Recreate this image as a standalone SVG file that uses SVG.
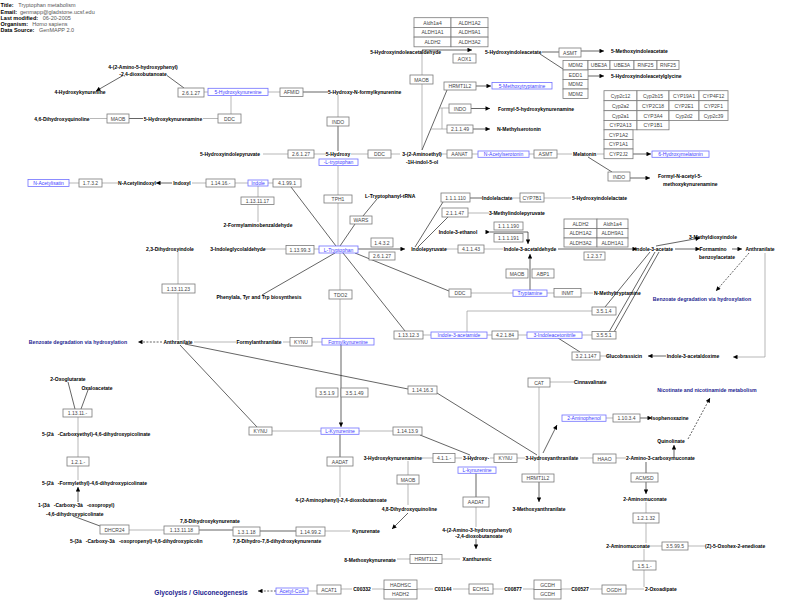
<svg xmlns="http://www.w3.org/2000/svg" width="785" height="606" viewBox="0 0 785 606">
<defs>
<marker id="ah" viewBox="0 0 10 10" refX="10" refY="5" markerWidth="5.5" markerHeight="4.5" markerUnits="userSpaceOnUse" orient="auto"><path d="M0,0 L10,5 L0,10 z" fill="#000"/></marker>
</defs>
<style>
text{font-family:"Liberation Sans",Arial,sans-serif;dominant-baseline:central}
.gn rect{fill:#fff;stroke:#7a7a7a;stroke-width:.8}
.gn text{font-size:5px;fill:#444;text-anchor:middle}
.bl rect{fill:#fff;stroke:#7070ff;stroke-width:.8}
.bl text{font-size:5px;fill:#3c3cff;text-anchor:middle}
.mt text{font-size:5px;font-weight:bold;fill:#000;text-anchor:middle}
.mt text.s{text-anchor:start}
.mt text.e{text-anchor:end}
.pw text{font-size:5.2px;font-weight:bold;fill:#1d1d90;text-anchor:middle}
.hd text{font-size:5.5px;fill:#555}
.hd text.b{font-weight:bold;fill:#000}
.c{stroke:#9a9a9a;stroke-width:.7;fill:none}
.k{stroke:#222;stroke-width:.7;fill:none}
.a{marker-end:url(#ah)}
.as{marker-start:url(#ah)}
.d{stroke-dasharray:2 1.4}
</style>
<rect width="785" height="606" fill="#fff"/>

<g id="header" class="hd">
<text class="b" x="0.5" y="5">Title:</text><text x="18.3" y="5">Tryptophan metabolism</text>
<text class="b" x="0.5" y="11.7">Email:</text><text x="20" y="11.7">genmapp@gladstone.ucsf.edu</text>
<text class="b" x="0.5" y="17.7">Last modified:</text><text x="42.7" y="17.7">06-20-2005</text>
<text class="b" x="0.5" y="24">Organism:</text><text x="32.3" y="24">Homo sapiens</text>
<text class="b" x="0.5" y="30">Data Source:</text><text x="39" y="30">GenMAPP 2.0</text>
</g>

<g id="connectors">
<!-- top-left -->
<line class="k a" x1="123" y1="75.5" x2="96" y2="91"/>
<line class="k" x1="167" y1="75.5" x2="184" y2="88"/>
<line class="c" x1="204" y1="92" x2="208" y2="92"/>
<line class="c" x1="268" y1="92" x2="280" y2="92"/>
<line class="k" x1="303" y1="92" x2="328" y2="92"/>
<line class="c" x1="231" y1="95.5" x2="231" y2="114"/>
<line class="c" x1="90" y1="118.5" x2="107" y2="118.5"/>
<line class="k" x1="129" y1="118.5" x2="143" y2="118.5"/>
<line class="c" x1="203" y1="118.5" x2="218" y2="118.5"/>
<line class="c" x1="338" y1="95" x2="338" y2="117"/>
<line class="k" x1="338" y1="126" x2="338" y2="151"/>
<line class="c" x1="263" y1="154" x2="288" y2="154"/>
<line class="c" x1="314" y1="154" x2="326" y2="154"/>
<line class="c" x1="351" y1="154" x2="368" y2="154"/>
<line class="c" x1="391" y1="154" x2="400" y2="154"/>
<line class="c" x1="338" y1="165.5" x2="338" y2="195"/>
<line class="c" x1="338" y1="203" x2="338" y2="246"/>
<line class="c" x1="69" y1="183" x2="79" y2="183"/>
<line class="c" x1="102" y1="183" x2="118" y2="183"/>
<line class="k a" x1="172" y1="183" x2="156" y2="183"/>
<line class="c" x1="192" y1="183" x2="206" y2="183"/>
<line class="c" x1="235" y1="183" x2="248" y2="183"/>
<line class="c" x1="268" y1="183" x2="273" y2="183"/>
<line class="c" x1="258" y1="186" x2="258" y2="197"/>
<line class="c" x1="258" y1="204.5" x2="258" y2="222"/>
<line class="k" x1="291" y1="187" x2="336" y2="246"/>
<!-- serotonin branch -->
<line class="c" x1="422" y1="50" x2="422" y2="75"/>
<line class="c" x1="422" y1="84" x2="422" y2="150"/>
<line class="k a" x1="422" y1="50" x2="472" y2="50"/>
<line class="k" x1="542" y1="52" x2="559" y2="52"/>
<line class="k a" x1="581" y1="51" x2="604" y2="51"/>
<line class="k" x1="540" y1="54" x2="563" y2="69"/>
<line class="k a" x1="588" y1="76" x2="604" y2="76"/>
<line class="k" x1="422" y1="150" x2="447" y2="90"/>
<line class="k a" x1="476" y1="86" x2="491" y2="86"/>
<path class="c" d="M440,108 H449 M442,108 V129 M431,129 H447"/>
<line class="k a" x1="471" y1="108.5" x2="490" y2="108.5"/>
<line class="k a" x1="473" y1="129" x2="490" y2="129"/>
<line class="c" x1="440" y1="154" x2="447" y2="154"/>
<line class="c" x1="472" y1="154" x2="478" y2="154"/>
<line class="c" x1="529" y1="154" x2="534" y2="154"/>
<line class="c" x1="557" y1="154" x2="572" y2="154"/>
<line class="c" x1="597" y1="154" x2="604" y2="154"/>
<line class="k a" x1="633" y1="154" x2="651" y2="154"/>
<line class="k" x1="588" y1="157" x2="612" y2="172"/>
<line class="k a" x1="630" y1="178" x2="650" y2="178"/>
<!-- tryptophan hub -->
<line class="k" x1="340" y1="246" x2="355" y2="224"/>
<line class="k" x1="363" y1="216" x2="377" y2="199"/>
<line class="c" x1="264" y1="249" x2="286" y2="249"/>
<line class="c" x1="314" y1="249" x2="319" y2="249"/>
<line class="k a" x1="358" y1="249" x2="405" y2="249"/>
<line class="k" x1="355" y1="253" x2="449" y2="291"/>
<line class="k" x1="343" y1="253" x2="405" y2="331"/>
<line class="k" x1="335" y1="253" x2="262" y2="295"/>
<line class="c" x1="340" y1="253" x2="340" y2="290"/>
<line class="c" x1="340" y1="299" x2="340" y2="338"/>
<line class="k a" x1="341" y1="345" x2="341" y2="427"/>
<line class="c" x1="471" y1="293" x2="513" y2="293"/>
<line class="c" x1="547" y1="293" x2="554" y2="293"/>
<line class="c" x1="581" y1="293" x2="593" y2="293"/>
<line class="k" x1="415" y1="247" x2="443" y2="202"/>
<line class="k" x1="418" y1="247" x2="448" y2="217"/>
<line class="c" x1="468" y1="213" x2="489" y2="213"/>
<line class="k" x1="470" y1="198" x2="482" y2="198"/>
<line class="c" x1="513" y1="198" x2="520" y2="198"/>
<line class="c" x1="544" y1="198" x2="571" y2="198"/>
<line class="c" x1="445" y1="249" x2="458" y2="249"/>
<line class="c" x1="484" y1="249" x2="503" y2="249"/>
<line class="k a" x1="558" y1="249" x2="637" y2="249"/>
<path class="k a as" d="M490,232 H528 V244"/>
<line class="k a" x1="530" y1="290" x2="530" y2="254"/>
<line class="k a" x1="656" y1="246" x2="700" y2="238"/>
<line class="k a" x1="675" y1="249" x2="700" y2="249"/>
<line class="k a" x1="732" y1="249" x2="742" y2="249"/>
<line class="k d a" x1="749" y1="253" x2="716" y2="291"/>
<path class="c a" d="M765,253 V357 H733" stroke-width="1.2"/>
<line class="k" x1="605" y1="307" x2="650" y2="252"/>
<line class="k" x1="609" y1="332" x2="655" y2="252"/>
<line class="k" x1="614" y1="332" x2="659" y2="252"/>
<line class="c" x1="423" y1="335" x2="431" y2="335"/>
<line class="c" x1="487" y1="335" x2="492" y2="335"/>
<line class="c" x1="518" y1="335" x2="527" y2="335"/>
<line class="c" x1="582" y1="335" x2="592" y2="335"/>
<path class="c" d="M467,332 V311 H592"/>
<line class="k" x1="558" y1="338" x2="580" y2="352"/>
<line class="c" x1="600" y1="356" x2="610" y2="356"/>
<line class="k a" x1="666" y1="356" x2="648" y2="356"/>
<!-- anthranilate left -->
<line class="c" x1="178" y1="252" x2="178" y2="284"/>
<line class="c" x1="178" y1="293" x2="178" y2="340"/>
<line class="k d a" x1="162" y1="342" x2="138" y2="342"/>
<line class="c" x1="194" y1="342" x2="236" y2="342"/>
<line class="c" x1="283" y1="342" x2="290" y2="342"/>
<line class="c" x1="312" y1="342" x2="322" y2="342"/>
<line class="k" x1="180" y1="345" x2="257" y2="427"/>
<line class="k" x1="185" y1="344" x2="408" y2="389"/>
<line class="k" x1="437" y1="393" x2="537" y2="455"/>
<line class="c" x1="550" y1="382" x2="574" y2="382"/>
<line class="c" x1="539" y1="387" x2="539" y2="474"/>
<line class="k a" x1="539" y1="482" x2="539" y2="502"/>
<!-- kynurenine -->
<line class="c" x1="272" y1="431" x2="321" y2="431"/>
<line class="c" x1="359" y1="431" x2="393" y2="431"/>
<line class="k" x1="340" y1="434" x2="340" y2="457"/>
<line class="c" x1="340" y1="466" x2="340" y2="497"/>
<line class="k" x1="420" y1="435" x2="470" y2="455"/>
<line class="c" x1="422" y1="458" x2="433" y2="458"/>
<line class="c" x1="455" y1="458" x2="462" y2="458"/>
<line class="c" x1="490" y1="458" x2="494" y2="458"/>
<line class="c" x1="517" y1="458" x2="525" y2="458"/>
<line class="c" x1="580" y1="458" x2="593" y2="458"/>
<line class="c" x1="616" y1="458" x2="626" y2="458"/>
<line class="k a" x1="543" y1="453" x2="557" y2="425"/>
<line class="c" x1="606" y1="418" x2="613" y2="418"/>
<line class="k a" x1="640" y1="418" x2="652" y2="418"/>
<line class="c" x1="408" y1="461" x2="408" y2="475"/>
<line class="c" x1="408" y1="484" x2="408" y2="505"/>
<line class="k a" x1="408" y1="513" x2="392" y2="529"/>
<line class="k" x1="476" y1="473" x2="476" y2="497"/>
<line class="c" x1="476" y1="507" x2="476" y2="527"/>
<line class="k a" x1="476" y1="539" x2="476" y2="549"/>
<line class="c" x1="397" y1="559" x2="410" y2="559"/>
<line class="c" x1="442" y1="559" x2="460" y2="559"/>
<line class="k a" x1="674" y1="457" x2="674" y2="445"/>
<line class="k d a" x1="688" y1="439" x2="710" y2="398"/>
<line class="k" x1="646" y1="462" x2="646" y2="473"/>
<line class="k a" x1="646" y1="482" x2="646" y2="494"/>
<line class="c" x1="646" y1="502" x2="646" y2="513"/>
<line class="c" x1="646" y1="523" x2="646" y2="543"/>
<line class="c" x1="649" y1="546" x2="662" y2="546"/>
<line class="c" x1="688" y1="546" x2="705" y2="546"/>
<line class="c" x1="644" y1="549" x2="644" y2="561"/>
<line class="c" x1="644" y1="570" x2="644" y2="587"/>
<line class="c" x1="590" y1="589" x2="602" y2="589"/>
<line class="c" x1="626" y1="589" x2="644" y2="589"/>
<line class="c" x1="523" y1="589" x2="534" y2="589"/>
<line class="c" x1="561" y1="589" x2="571" y2="589"/>
<line class="c" x1="453" y1="589" x2="469" y2="589"/>
<line class="c" x1="493" y1="589" x2="503" y2="589"/>
<line class="c" x1="372" y1="589" x2="384" y2="589"/>
<line class="c" x1="417" y1="589" x2="433" y2="589"/>
<line class="c" x1="308" y1="591" x2="317" y2="591"/>
<line class="c" x1="341" y1="589" x2="352" y2="589"/>
<line class="k d a" x1="276" y1="591" x2="258" y2="591"/>
<!-- picolinate chain -->
<line class="k" x1="68" y1="382" x2="75" y2="409"/>
<line class="k" x1="88" y1="390" x2="81" y2="409"/>
<line class="c" x1="78" y1="417" x2="78" y2="457"/>
<line class="c" x1="78" y1="466" x2="78" y2="480"/>
<line class="k a" x1="78" y1="502" x2="78" y2="487"/>
<line class="k" x1="73" y1="516" x2="100" y2="526"/>
<line class="c" x1="129" y1="530" x2="164" y2="530"/>
<line class="k" x1="199" y1="530" x2="233" y2="530"/>
<line class="k" x1="260" y1="531" x2="296" y2="531"/>
<line class="c" x1="325" y1="531" x2="350" y2="531"/>
</g>

<g id="gene-boxes" class="gn">
<g id="n_26127a"><rect x="178" y="88" width="26" height="9"/><text x="191" y="92.5">2.6.1.27</text></g>
<g id="n_maob_a"><rect x="107" y="114" width="22" height="9"/><text x="118" y="118.5">MAOB</text></g>
<g id="n_ddc_a"><rect x="218" y="114" width="23" height="9"/><text x="229.5" y="118.5">DDC</text></g>
<g id="n_afmid"><rect x="280" y="88" width="23" height="8.5"/><text x="291.5" y="92.3">AFMID</text></g>
<g id="n_indo_a"><rect x="327" y="117" width="22" height="9"/><text x="338" y="121.5">INDO</text></g>
<g id="n_26127b"><rect x="288" y="150" width="26" height="8"/><text x="301" y="154">2.6.1.27</text></g>
<g id="n_ddc_b"><rect x="368" y="150" width="23" height="8"/><text x="379.5" y="154">DDC</text></g>
<g id="n_1732"><rect x="79" y="179" width="23" height="8"/><text x="90.5" y="183">1.7.3.2</text></g>
<g id="n_11416"><rect x="206" y="179" width="29" height="8"/><text x="220.5" y="183">1.14.16.-</text></g>
<g id="n_41991"><rect x="273" y="179" width="28" height="8"/><text x="287" y="183">4.1.99.1</text></g>
<g id="n_1131117"><rect x="241" y="197" width="33" height="7.5"/><text x="257.5" y="200.8">1.13.11.17</text></g>
<g id="n_tph1"><rect x="324" y="195" width="28" height="8"/><text x="338" y="199">TPH1</text></g>
<g id="n_aldh_t1">
<rect x="414" y="17.7" width="37" height="9.7"/><text x="432.5" y="22.5">Aldh1a4</text>
<rect x="451" y="17.7" width="37" height="9.7"/><text x="469.5" y="22.5">ALDH1A2</text>
<rect x="414" y="27.4" width="37" height="9.7"/><text x="432.5" y="32.2">ALDH1A1</text>
<rect x="451" y="27.4" width="37" height="9.7"/><text x="469.5" y="32.2">ALDH9A1</text>
<rect x="414" y="37.1" width="37" height="9.7"/><text x="432.5" y="42">ALDH2</text>
<rect x="451" y="37.1" width="37" height="9.7"/><text x="469.5" y="42">ALDH3A2</text>
</g>
<g id="n_aox1"><rect x="453" y="54" width="23" height="9"/><text x="464.5" y="58.5">AOX1</text></g>
<g id="n_asmt_a"><rect x="559" y="48" width="22" height="9"/><text x="570" y="52.5">ASMT</text></g>
<g id="n_mdm2_t">
<rect x="563" y="60.5" width="25" height="9.5"/><text x="575.5" y="65.2">MDM2</text>
<rect x="588" y="60.5" width="22" height="9"/><text x="599" y="65">UBE3A</text>
<rect x="610" y="60.5" width="24" height="9"/><text x="622" y="65">UBE3A</text>
<rect x="634" y="60.5" width="23" height="9"/><text x="645.5" y="65">RNF25</text>
<rect x="657" y="60.5" width="22" height="9"/><text x="668" y="65">RNF25</text>
<rect x="563" y="70" width="25" height="9.5"/><text x="575.5" y="74.8">EDD1</text>
<rect x="563" y="79.5" width="25" height="9.5"/><text x="575.5" y="84.2">MDM2</text>
<rect x="563" y="89" width="25" height="9.5"/><text x="575.5" y="93.8">MDM2</text>
</g>
<g id="n_maob_b"><rect x="410" y="75" width="23" height="9"/><text x="421.5" y="79.5">MAOB</text></g>
<g id="n_hrmt_a"><rect x="444" y="82" width="32" height="8"/><text x="460" y="86">HRMT1L2</text></g>
<g id="n_indo_b"><rect x="449" y="104" width="22" height="9"/><text x="460" y="108.5">INDO</text></g>
<g id="n_21149"><rect x="447" y="125" width="26" height="8"/><text x="460" y="129">2.1.1.49</text></g>
<g id="n_aanat"><rect x="447" y="150" width="25" height="8"/><text x="459.5" y="154">AANAT</text></g>
<g id="n_asmt_b"><rect x="534" y="150" width="23" height="8"/><text x="545.5" y="154">ASMT</text></g>
<g id="n_cyp_t">
<rect x="604" y="90.7" width="33" height="10"/><text x="620.5" y="95.7">Cyp2c12</text>
<rect x="637" y="90.7" width="32" height="10"/><text x="653" y="95.7">Cyp2b15</text>
<rect x="669" y="90.7" width="30" height="10"/><text x="684" y="95.7">CYP19A1</text>
<rect x="699" y="90.7" width="29" height="10"/><text x="713.5" y="95.7">CYP4F12</text>
<rect x="604" y="100.7" width="33" height="10"/><text x="620.5" y="105.7">Cyp2a2</text>
<rect x="637" y="100.7" width="32" height="10"/><text x="653" y="105.7">CYP2C18</text>
<rect x="669" y="100.7" width="30" height="10"/><text x="684" y="105.7">CYP2E1</text>
<rect x="699" y="100.7" width="29" height="10"/><text x="713.5" y="105.7">CYP2F1</text>
<rect x="604" y="110.7" width="33" height="9.7"/><text x="620.5" y="115.5">Cyp2a1</text>
<rect x="637" y="110.7" width="32" height="9.7"/><text x="653" y="115.5">CYP3A4</text>
<rect x="669" y="110.7" width="30" height="9.7"/><text x="684" y="115.5">Cyp2d2</text>
<rect x="699" y="110.7" width="29" height="9.7"/><text x="713.5" y="115.5">Cyp2c39</text>
<rect x="604" y="120.4" width="33" height="9.4"/><text x="620.5" y="125">CYP2A13</text>
<rect x="637" y="120.4" width="32" height="9.4"/><text x="653" y="125">CYP1B1</text>
<rect x="604" y="129.8" width="29" height="9.6"/><text x="618.5" y="134.6">CYP1A2</text>
<rect x="604" y="139.4" width="29" height="9.6"/><text x="618.5" y="144.2">CYP1A1</text>
<rect x="604" y="149" width="29" height="9.7"/><text x="618.5" y="153.9">CYP2J2</text>
</g>
<g id="n_indo_c"><rect x="608" y="172" width="22" height="9"/><text x="619" y="176.5">INDO</text></g>
<g id="n_111110"><rect x="441" y="193" width="29" height="9"/><text x="455.5" y="197.5">1.1.1.110</text></g>
<g id="n_cyp7b1"><rect x="520" y="193" width="24" height="9"/><text x="532" y="197.5">CYP7B1</text></g>
<g id="n_21147"><rect x="442" y="208" width="26" height="9"/><text x="455" y="212.5">2.1.1.47</text></g>
<g id="n_wars"><rect x="350" y="216" width="22" height="8"/><text x="361" y="220">WARS</text></g>
<g id="n_111190"><rect x="494" y="222" width="29" height="8"/><text x="508.5" y="226">1.1.1.190</text></g>
<g id="n_111191"><rect x="494" y="233.5" width="29" height="8.5"/><text x="508.5" y="237.8">1.1.1.191</text></g>
<g id="n_aldh_t2">
<rect x="564" y="219" width="33" height="9.5"/><text x="580.5" y="223.8">ALDH2</text>
<rect x="597" y="219" width="31" height="9.5"/><text x="612.5" y="223.8">Aldh1a4</text>
<rect x="564" y="228.5" width="33" height="9.5"/><text x="580.5" y="233.3">ALDH1A2</text>
<rect x="597" y="228.5" width="31" height="9.5"/><text x="612.5" y="233.3">ALDH9A1</text>
<rect x="564" y="238" width="33" height="9"/><text x="580.5" y="242.5">ALDH3A2</text>
<rect x="597" y="238" width="31" height="9"/><text x="612.5" y="242.5">ALDH1A1</text>
</g>
<g id="n_113993"><rect x="286" y="245.5" width="28" height="8.5"/><text x="300" y="249.8">1.13.99.3</text></g>
<g id="n_1432"><rect x="371" y="238" width="22" height="9"/><text x="382" y="242.5">1.4.3.2</text></g>
<g id="n_26127c"><rect x="369" y="252" width="26" height="8"/><text x="382" y="256">2.6.1.27</text></g>
<g id="n_41143"><rect x="458" y="245" width="26" height="8"/><text x="471" y="249">4.1.1.43</text></g>
<g id="n_1237"><rect x="584" y="252" width="21" height="8"/><text x="594.5" y="256">1.2.3.7</text></g>
<g id="n_maob_c"><rect x="506" y="269" width="22" height="9"/><text x="517" y="273.5">MAOB</text></g>
<g id="n_abp1"><rect x="532" y="269" width="22" height="9"/><text x="543" y="273.5">ABP1</text></g>
<g id="n_1131123"><rect x="162" y="284" width="33" height="9"/><text x="178.5" y="288.5">1.13.11.23</text></g>
<g id="n_tdo2"><rect x="329" y="290" width="23" height="9"/><text x="340.5" y="294.5">TDO2</text></g>
<g id="n_ddc_c"><rect x="449" y="289" width="22" height="8"/><text x="460" y="293">DDC</text></g>
<g id="n_inmt"><rect x="554" y="288.5" width="27" height="8.5"/><text x="567.5" y="292.8">INMT</text></g>
<g id="n_3514"><rect x="592" y="307" width="24" height="8"/><text x="604" y="311">3.5.1.4</text></g>
<g id="n_kynu_a"><rect x="290" y="337.5" width="22" height="8.5"/><text x="301" y="341.8">KYNU</text></g>
<g id="n_113123"><rect x="394" y="331" width="29" height="8"/><text x="408.5" y="335">1.13.12.3</text></g>
<g id="n_42184"><rect x="492" y="331" width="26" height="8"/><text x="505" y="335">4.2.1.84</text></g>
<g id="n_3551"><rect x="592" y="331.5" width="24" height="7.5"/><text x="604" y="335.3">3.5.5.1</text></g>
<g id="n_321147"><rect x="572" y="352" width="28" height="8"/><text x="586" y="356">3.2.1.147</text></g>
<g id="n_cat"><rect x="528" y="378" width="22" height="9"/><text x="539" y="382.5">CAT</text></g>
<g id="n_114163"><rect x="408" y="386" width="29" height="8"/><text x="422.5" y="390">1.14.16.3</text></g>
<g id="n_3519"><rect x="316" y="388" width="22" height="9"/><text x="327" y="392.5">3.5.1.9</text></g>
<g id="n_35149"><rect x="341" y="388" width="27" height="9"/><text x="354.5" y="392.5">3.5.1.49</text></g>
<g id="n_11311x"><rect x="63" y="409" width="29" height="8"/><text x="77.5" y="413">1.13.11.-</text></g>
<g id="n_11034"><rect x="613" y="414" width="27" height="8"/><text x="626.5" y="418">1.10.3.4</text></g>
<g id="n_kynu_b"><rect x="249" y="427" width="23" height="8"/><text x="260.5" y="431">KYNU</text></g>
<g id="n_114139"><rect x="393" y="427" width="29" height="8"/><text x="407.5" y="431">1.14.13.9</text></g>
<g id="n_411x"><rect x="433" y="453.5" width="22" height="9"/><text x="444" y="458">4.1.1.-</text></g>
<g id="n_kynu_c"><rect x="494" y="454" width="23" height="8.5"/><text x="505.5" y="458.3">KYNU</text></g>
<g id="n_haao"><rect x="593" y="454" width="23" height="9"/><text x="604.5" y="458.5">HAAO</text></g>
<g id="n_121x"><rect x="67" y="457" width="22" height="9"/><text x="78" y="461.5">1.2.1.-</text></g>
<g id="n_aadat_a"><rect x="327" y="457" width="26" height="9"/><text x="340" y="461.5">AADAT</text></g>
<g id="n_maob_d"><rect x="397" y="475" width="22" height="9"/><text x="408" y="479.5">MAOB</text></g>
<g id="n_hrmt_b"><rect x="522" y="474" width="32" height="8"/><text x="538" y="478">HRMT1L2</text></g>
<g id="n_acmsd"><rect x="631" y="473" width="27" height="9"/><text x="644.5" y="477.5">ACMSD</text></g>
<g id="n_aadat_b"><rect x="463" y="497" width="26" height="10"/><text x="476" y="502">AADAT</text></g>
<g id="n_12132"><rect x="633" y="513" width="26" height="10"/><text x="646" y="518">1.2.1.32</text></g>
<g id="n_dhcr24"><rect x="100" y="525" width="29" height="9"/><text x="114.5" y="529.5">DHCR24</text></g>
<g id="n_1131118"><rect x="164" y="526" width="35" height="8"/><text x="181.5" y="530">1.13.11.18</text></g>
<g id="n_13118"><rect x="233" y="527" width="27" height="9"/><text x="246.5" y="531.5">1.3.1.18</text></g>
<g id="n_114992"><rect x="296" y="527" width="29" height="9"/><text x="310.5" y="531.5">1.14.99.2</text></g>
<g id="n_35995"><rect x="662" y="542" width="26" height="8"/><text x="675" y="546">3.5.99.5</text></g>
<g id="n_hrmt_c"><rect x="410" y="554.5" width="32" height="9"/><text x="426" y="559">HRMT1L2</text></g>
<g id="n_151x"><rect x="633" y="561" width="23" height="9"/><text x="644.5" y="565.5">1.5.1.-</text></g>
<g id="n_acat1"><rect x="317" y="585" width="24" height="9"/><text x="329" y="589.5">ACAT1</text></g>
<g id="n_hadh"><rect x="384" y="580" width="33" height="9.5"/><text x="400.5" y="584.8">HADHSC</text><rect x="384" y="589.5" width="33" height="9.5"/><text x="400.5" y="594.3">HADH2</text></g>
<g id="n_echs1"><rect x="469" y="584" width="24" height="10"/><text x="481" y="589">ECHS1</text></g>
<g id="n_gcdh"><rect x="534" y="580" width="27" height="9.5"/><text x="547.5" y="584.8">GCDH</text><rect x="534" y="589.5" width="27" height="9.5"/><text x="547.5" y="594.3">GCDH</text></g>
<g id="n_ogdh"><rect x="602" y="585" width="24" height="9"/><text x="614" y="589.5">OGDH</text></g>
</g>

<g id="linked-metabolites" class="bl">
<g id="b_5hk"><rect x="208" y="88.3" width="60" height="7.2"/><text x="238" y="92">5-Hydroxykynurenine</text></g>
<g id="b_5htrp"><rect x="319" y="159" width="39" height="6.5"/><text x="338.5" y="162.3">-L-tryptophan</text></g>
<g id="b_nacisatin"><rect x="28" y="179.5" width="41" height="7"/><text x="48.5" y="183">N-Acetylisatin</text></g>
<g id="b_indole"><rect x="248" y="180" width="20" height="6"/><text x="258" y="183">Indole</text></g>
<g id="b_5mt"><rect x="492" y="82.5" width="60" height="6.5"/><text x="522" y="85.8">5-Methoxytryptamine</text></g>
<g id="b_nas"><rect x="478" y="151" width="51" height="6.3"/><text x="503.5" y="154.2">N-Acetylserotonin</text></g>
<g id="b_6hm"><rect x="652" y="151" width="57" height="6.3"/><text x="680.5" y="154.2">6-Hydroxymelatonin</text></g>
<g id="b_ltrp"><rect x="319" y="246" width="39" height="7"/><text x="338.5" y="249.5">L-Tryptophan</text></g>
<g id="b_tryptamine"><rect x="513" y="290" width="34" height="6.3"/><text x="530" y="293.2">Tryptamine</text></g>
<g id="b_fkyn"><rect x="322" y="338.3" width="52" height="6.7"/><text x="348" y="341.7">Formylkynurenine</text></g>
<g id="b_i3am"><rect x="431" y="332" width="56" height="6.3"/><text x="459" y="335.2">Indole-3-acetamide</text></g>
<g id="b_i3an"><rect x="527" y="332" width="55" height="6.3"/><text x="554.5" y="335.2">3-Indoleacetonitrile</text></g>
<g id="b_2ap"><rect x="562" y="415" width="44" height="6.3"/><text x="584" y="418.2">2-Aminophenol</text></g>
<g id="b_lkyn"><rect x="321" y="428" width="38" height="6.3"/><text x="340" y="431.2">L-Kynurenine</text></g>
<g id="b_3hk"><rect x="458" y="467" width="38" height="6.3"/><text x="477" y="470.2">L-kynurenine</text></g>
<g id="b_accoa"><rect x="276" y="588" width="32" height="6.3"/><text x="292" y="591.2">Acetyl-CoA</text></g>
</g>

<g id="metabolites" class="mt">
<g id="m1"><text x="143" y="66.7">4-(2-Amino-5-hydroxyphenyl)</text><text x="143" y="74">-2,4-dioxobutanoate</text></g>
<g id="m2"><text x="80" y="92">4-Hydroxykynurenine</text></g>
<g id="m3"><text x="62" y="118.5">4,6-Dihydroxyquinoline</text></g>
<g id="m4"><text x="173" y="118.5">5-Hydroxykynurenamine</text></g>
<g id="m5"><text class="s" x="328" y="92">5-Hydroxy-N-formylkynurenine</text></g>
<g id="m6"><text x="230" y="154">5-Hydroxyindolepyruvate</text></g>
<g id="m7"><text x="338" y="154">5-Hydroxy</text></g>
<g id="m8"><text x="137" y="183">N-Acetylindoxyl</text></g>
<g id="m9"><text x="182" y="183">Indoxyl</text></g>
<g id="m10"><text class="s" x="365" y="196">L-Tryptophanyl-tRNA</text></g>
<g id="m11"><text class="e" x="441" y="51.7">5-Hydroxyindoleacetaldehyde</text></g>
<g id="m12"><text class="s" x="485" y="52">5-Hydroxyindoleacetate</text></g>
<g id="m13"><text class="s" x="611" y="50.5">5-Methoxyindoleacetate</text></g>
<g id="m14"><text class="s" x="611" y="76">5-Hydroxyindoleacetylglycine</text></g>
<g id="m15"><text class="s" x="498" y="108.5">Formyl-5-hydroxykynurenamine</text></g>
<g id="m16"><text class="s" x="497" y="129">N-Methylserotonin</text></g>
<g id="m17"><text x="422" y="154">3-(2-Aminoethyl)</text><text x="422" y="162.3">-1H-indol-5-ol</text></g>
<g id="m18"><text class="s" x="573" y="154">Melatonin</text></g>
<g id="m19"><text class="s" x="658" y="176">Formyl-N-acetyl-5-</text><text class="s" x="663" y="184.3">methoxykynurenamine</text></g>
<g id="m20"><text class="s" x="482" y="198">Indolelactate</text></g>
<g id="m21"><text class="s" x="572" y="198">5-Hydroxyindolelactate</text></g>
<g id="m22"><text class="s" x="489" y="213">3-Methylindolepyruvate</text></g>
<g id="m23"><text x="258" y="225">2-Formylaminobenzaldehyde</text></g>
<g id="m24"><text x="458" y="232.3">Indole-3-ethanol</text></g>
<g id="m25"><text x="713" y="237">3-Methyldioxyindole</text></g>
<g id="m26"><text x="170" y="249.3">2,3-Dihydroxyindole</text></g>
<g id="m27"><text x="238" y="249.3">3-Indoleglycolaldehyde</text></g>
<g id="m28"><text x="429" y="249.3">Indolepyruvate</text></g>
<g id="m29"><text x="530" y="249.3">Indole-3-acetaldehyde</text></g>
<g id="m30"><text x="654" y="249.3">Indole-3-acetate</text></g>
<g id="m31"><text x="713" y="249.3">Formamino</text><text x="717" y="257">benzoylacetate</text></g>
<g id="m32"><text x="760" y="249.3">Anthranilate</text></g>
<g id="m33"><text class="s" x="594" y="293">N-Methyltryptamine</text></g>
<g id="m34"><text x="259" y="297">Phenylala, Tyr and Trp biosynthesis</text></g>
<g id="m35"><text x="178" y="342">Anthranilate</text></g>
<g id="m36"><text x="259" y="342">Formylanthranilate</text></g>
<g id="m37"><text x="693" y="356">Indole-3-acetaldoxime</text></g>
<g id="m38"><text x="624" y="356">Glucobrassicin</text></g>
<g id="m39"><text x="68" y="379">2-Oxoglutarate</text></g>
<g id="m40"><text x="97" y="387.5">Oxaloacetate</text></g>
<g id="m41"><text class="s" x="574" y="382.3">Cinnavalinate</text></g>
<g id="m42"><text class="s" x="651" y="418">Isophenoxazine</text></g>
<g id="m43"><text class="s" x="42" y="434">5-(2à&#160;&#160;&#160;-Carboxyethyl)-4,6-dihydroxypicolinate</text></g>
<g id="m44"><text x="671" y="441">Quinolinate</text></g>
<g id="m45"><text class="e" x="422" y="458">3-Hydroxykynurenamine</text></g>
<g id="m46"><text x="476" y="458">3-Hydroxy-</text></g>
<g id="m47"><text x="552" y="458">3-Hydroxyanthranilate</text></g>
<g id="m48"><text class="s" x="626" y="458">2-Amino-3-carboxymuconate</text></g>
<g id="m49"><text class="s" x="42" y="483">5-(2à&#160;&#160;&#160;-Formylethyl)-4,6-dihydroxypicolinate</text></g>
<g id="m50"><text x="645" y="499">2-Aminomuconate</text></g>
<g id="m51"><text x="341" y="500">4-(2-Aminophenyl)-2,4-dioxobutanoate</text></g>
<g id="m52"><text class="s" x="38" y="505.3">1-(3à&#160;&#160;&#160;-Carboxy-3à&#160;&#160;&#160;-oxopropyl)</text><text class="s" x="46" y="513.7">-4,6-dihydroxypicolinate</text></g>
<g id="m53"><text class="e" x="437" y="509">4,8-Dihydroxyquinoline</text></g>
<g id="m54"><text x="539" y="509">3-Methoxyanthranilate</text></g>
<g id="m55"><text class="s" x="180" y="521.3">7,8-Dihydroxykynurenate</text></g>
<g id="m56"><text x="477" y="530">4-(2-Amino-3-hydroxyphenyl)</text><text x="479" y="536.3">-2,4-dioxobutanoate</text></g>
<g id="m57"><text x="366" y="531">Kynurenate</text></g>
<g id="m58"><text class="s" x="70" y="541">5-(3à&#160;&#160;&#160;-Carboxy-3à&#160;&#160;&#160;-oxopropenyl)-4,6-dihydroxypicolin</text></g>
<g id="m59"><text x="277" y="541">7,8-Dihydro-7,8-dihydroxykynurenate</text></g>
<g id="m60"><text x="628" y="546">2-Aminomuconate</text></g>
<g id="m61"><text class="s" x="705" y="546">(Z)-5-Oxohex-2-enedioate</text></g>
<g id="m62"><text x="370" y="560">8-Methoxykynurenate</text></g>
<g id="m63"><text x="477" y="559">Xanthurenic</text></g>
<g id="m64"><text class="s" x="645" y="589">2-Oxoadipate</text></g>
<g id="m65"><text x="362" y="589">C00332</text></g>
<g id="m66"><text x="443" y="589">C01144</text></g>
<g id="m67"><text x="513" y="589">C00877</text></g>
<g id="m68"><text x="580" y="589">C00527</text></g>
</g>

<g id="pathways" class="pw">
<g id="p1"><text x="702" y="299">Benzoate degradation via hydroxylation</text></g>
<g id="p2"><text x="78" y="342">Benzoate degradation via hydroxylation</text></g>
<g id="p3"><text x="707" y="390">Nicotinate and nicotinamide metabolism</text></g>
<g id="p4"><text x="201" y="592" style="font-size:6.6px">Glycolysis / Gluconeogenesis</text></g>
</g>
</svg>
